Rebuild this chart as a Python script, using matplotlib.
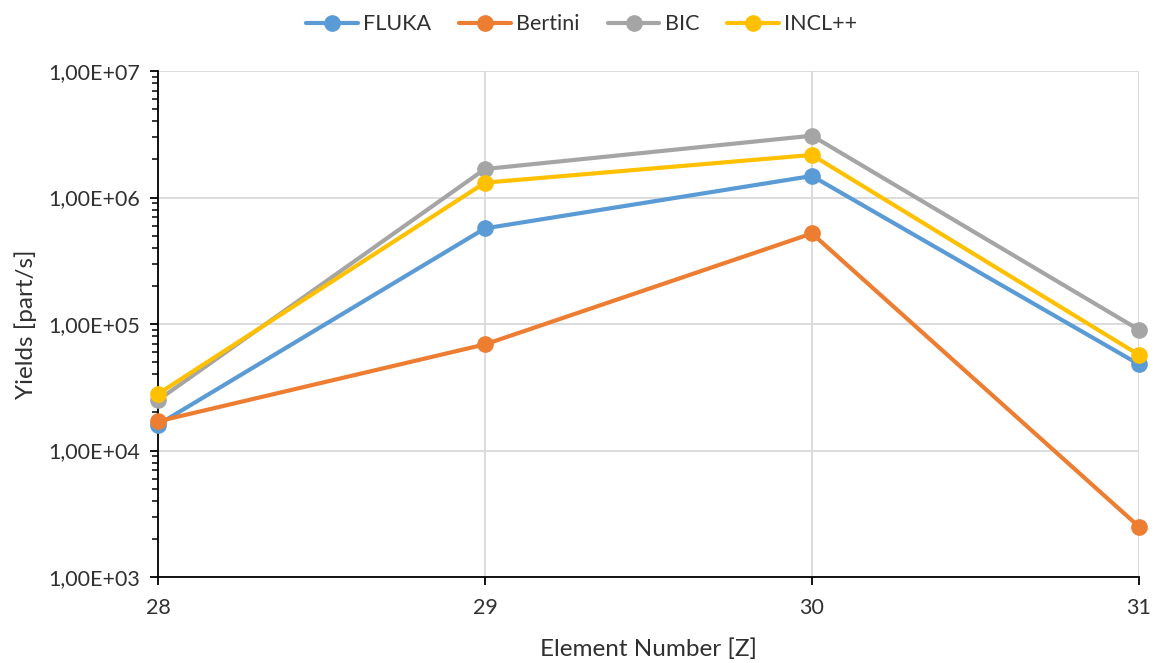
import math
import matplotlib
matplotlib.use("Agg")
import matplotlib.pyplot as plt
from matplotlib.ticker import FixedLocator, LogLocator, NullFormatter, FuncFormatter

plt.rcParams['font.family'] = ['Lato', 'DejaVu Sans']

z = [28, 29, 30, 31]
fluka = [1.6e4, 5.7e5, 1.48e6, 4.8e4]
bertini = [1.7e4, 6.9e4, 5.2e5, 2.5e3]
bic = [2.5e4, 1.68e6, 3.08e6, 9.0e4]
incl = [2.8e4, 1.31e6, 2.17e6, 5.7e4]

series = [("FLUKA", fluka, "#5B9BD5"),
          ("Bertini", bertini, "#ED7D31"),
          ("BIC", bic, "#A5A5A5"),
          ("INCL++", incl, "#FFC000")]

fig = plt.figure(figsize=(11.59, 6.63), dpi=100)
ax = fig.add_axes([0.1363, 0.1297, 0.8464, 0.7632])

for name, vals, col in series:
    ax.plot(z, vals, color=col, lw=3, marker='o', ms=11, label=name,
            solid_capstyle='round', zorder=3, clip_on=False)

ax.set_yscale('log')
ax.set_ylim(1e3, 1e7)
ax.set_xlim(28, 31)
ax.xaxis.set_major_locator(FixedLocator(z))
ax.yaxis.set_major_locator(LogLocator(base=10, numticks=10))
ax.yaxis.set_minor_locator(LogLocator(base=10, subs=range(2, 10), numticks=20))
ax.yaxis.set_minor_formatter(NullFormatter())

def fmt(v, pos):
    e = int(round(math.log10(v)))
    return "1,00E+%02d" % e
ax.yaxis.set_major_formatter(FuncFormatter(fmt))

ax.grid(True, which='major', color='#D9D9D9', lw=1.3, zorder=0)
for s in ['top', 'right']:
    ax.spines[s].set_visible(False)
for s in ['left', 'bottom']:
    ax.spines[s].set_color('black')
    ax.spines[s].set_linewidth(1.3)
    ax.spines[s].set_zorder(2)

ax.tick_params(axis='both', which='major', direction='out', length=6, width=1.3,
               labelsize=15.5, colors='black', pad=7)
ax.tick_params(axis='y', which='minor', direction='out', length=4, width=1.1)
ax.tick_params(axis='x', labelcolor='#303030', pad=9)
ax.tick_params(axis='y', labelcolor='#303030')

ax.set_xlabel("Element Number [Z]", fontsize=17.5, color='#303030', labelpad=15)
ax.set_ylabel("Yields [part/s]", fontsize=17.5, color='#303030', labelpad=8)

leg = fig.legend(*ax.get_legend_handles_labels(), loc='upper center',
                 bbox_to_anchor=(0.502, 1.008), ncol=4,
                 frameon=False, fontsize=15.5, handlelength=2.4, columnspacing=1.3,
                 handletextpad=0.25)
for t in leg.get_texts():
    t.set_color('#303030')

fig.savefig("out.png", dpi=100)
